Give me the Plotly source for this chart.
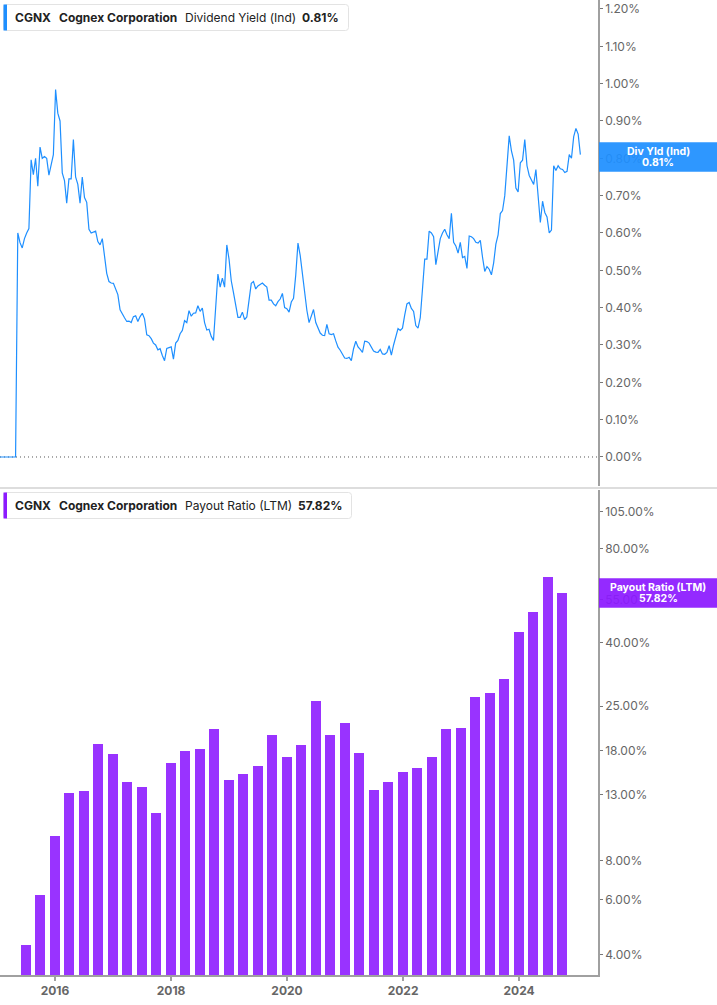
import plotly.graph_objects as go
import pandas as pd

# ---------------- data ----------------
div_yield = [
    0, 0, 0, 0, 0, 0, 0, 0,
    0.60, 0.574, 0.56, 0.585, 0.60, 0.612,
    0.796, 0.756, 0.80, 0.725, 0.83, 0.80, 0.805, 0.80, 0.755, 0.787, 0.81,
    0.984, 0.921, 0.90, 0.761, 0.74, 0.68, 0.745, 0.745, 0.85, 0.75,
    0.73, 0.68, 0.75, 0.695, 0.682, 0.61, 0.60, 0.603, 0.605, 0.577,
    0.568, 0.585, 0.54, 0.492, 0.47, 0.466, 0.465, 0.448, 0.435, 0.394,
    0.382, 0.373, 0.363, 0.364, 0.36, 0.376, 0.378, 0.363, 0.376, 0.385,
    0.37, 0.327, 0.325, 0.317, 0.305, 0.30, 0.287, 0.29, 0.272, 0.258,
    0.291, 0.294, 0.295, 0.262, 0.305, 0.312, 0.33, 0.339, 0.365, 0.36,
    0.392, 0.377, 0.385, 0.386, 0.405, 0.39, 0.399, 0.36, 0.34, 0.342,
    0.323, 0.312, 0.39, 0.49, 0.455, 0.479, 0.455, 0.568, 0.53, 0.472,
    0.44, 0.403, 0.374, 0.374, 0.388, 0.368, 0.375, 0.42, 0.465, 0.47,
    0.45, 0.458, 0.462, 0.466, 0.46, 0.455, 0.42, 0.42, 0.41, 0.405,
    0.416, 0.423, 0.438, 0.40, 0.397, 0.388, 0.415, 0.425, 0.487, 0.573,
    0.54, 0.487, 0.445, 0.393, 0.36, 0.375, 0.395, 0.36, 0.348, 0.332,
    0.326, 0.325, 0.355, 0.33, 0.328, 0.33, 0.311, 0.294, 0.286, 0.274,
    0.265, 0.264, 0.267, 0.258, 0.29, 0.31, 0.295, 0.288, 0.28, 0.31,
    0.309, 0.305, 0.294, 0.284, 0.281, 0.28, 0.288, 0.276, 0.275, 0.28,
    0.298, 0.273, 0.30, 0.325, 0.344, 0.339, 0.345, 0.38, 0.41, 0.414,
    0.398, 0.39, 0.352, 0.345, 0.373, 0.45, 0.53, 0.53, 0.605, 0.60,
    0.59, 0.515, 0.55, 0.585, 0.60, 0.61, 0.595, 0.585, 0.653, 0.575,
    0.565, 0.546, 0.575, 0.534, 0.537, 0.505, 0.592, 0.59, 0.585, 0.575,
    0.573, 0.58, 0.535, 0.497, 0.51, 0.503, 0.488, 0.52, 0.57, 0.595,
    0.652, 0.66, 0.70, 0.77, 0.86, 0.82, 0.795, 0.72, 0.71, 0.788,
    0.795, 0.85, 0.78, 0.754, 0.74, 0.73, 0.77, 0.695, 0.628, 0.685,
    0.655, 0.643, 0.60, 0.608, 0.78, 0.767, 0.78, 0.772, 0.77, 0.762,
    0.765, 0.81, 0.80, 0.858, 0.88, 0.865, 0.81,
]
div_dates = pd.date_range("2015-01-20", periods=len(div_yield), freq="14D")

payout_dates = [
    "2015-06-30", "2015-09-30", "2015-12-31",
    "2016-03-31", "2016-06-30", "2016-09-30", "2016-12-31",
    "2017-03-31", "2017-06-30", "2017-09-30", "2017-12-31",
    "2018-03-31", "2018-06-30", "2018-09-30", "2018-12-31",
    "2019-03-31", "2019-06-30", "2019-09-30", "2019-12-31",
    "2020-03-31", "2020-06-30", "2020-09-30", "2020-12-31",
    "2021-03-31", "2021-06-30", "2021-09-30", "2021-12-31",
    "2022-03-31", "2022-06-30", "2022-09-30", "2022-12-31",
    "2023-03-31", "2023-06-30", "2023-09-30", "2023-12-31",
    "2024-03-31", "2024-06-30", "2024-09-30",
]
payout_ratio = [
    4.28, 6.18, 9.58, 13.15, 13.36, 18.89, 17.51, 14.24, 13.72, 11.33,
    16.38, 17.94, 18.21, 21.15, 14.45, 15.11, 16.02, 20.19, 17.13, 18.75,
    26.01, 20.19, 22.06, 17.72, 13.48, 14.24, 15.37, 15.79, 17.16, 21.06,
    21.22, 26.73, 27.47, 30.52, 43.18, 49.94, 64.68, 57.82,
]

yield_ticks = [0.0, 0.1, 0.2, 0.3, 0.4, 0.5, 0.6, 0.7, 0.8, 0.9, 1.0, 1.1, 1.2]
payout_ticks = [4, 6, 8, 13, 18, 25, 40, 55, 80, 105]
year_ticks = ["2016-01-01", "2018-01-01", "2020-01-01", "2022-01-01", "2024-01-01"]
year_labels = ["2016", "2018", "2020", "2022", "2024"]

ticker = "CGNX"
company = "Cognex Corporation"
top_metric = "Dividend Yield (Ind)"
top_value = "0.81%"
top_short = "Div Yld (Ind)"
bot_metric = "Payout Ratio (LTM)"
bot_value = "57.82%"

# ---------------- layout helpers ----------------
W, H = 717, 1005
PW = 598          # plot width in px
PB = 975          # plot bottom in px


def px(x):
    return x / PW


def py(y):
    return (PB - y) / PB


BLUE = "#1e8fff"
PURPLE = "#9933ff"
PURPLE_BOX = "#8c1aff"
TXT = "#222222"
GREY = "#666666"
FONT = "Inter"
x_range = ["2015-01-20", "2025-05-12"]

fig = go.Figure()
fig.add_trace(go.Scatter(
    x=div_dates, y=div_yield, mode="lines",
    line=dict(color=BLUE, width=1.2),
    xaxis="x", yaxis="y", showlegend=False, hoverinfo="skip",
))
fig.add_trace(go.Bar(
    x=pd.to_datetime(payout_dates), y=payout_ratio,
    marker=dict(color=PURPLE, line=dict(width=0)),
    width=63 * 86400000,
    xaxis="x2", yaxis="y2", showlegend=False, hoverinfo="skip",
))

axis_common = dict(showgrid=False, zeroline=False)

fig.update_layout(
    width=W, height=H, autosize=False,
    margin=dict(l=0, r=W - PW, t=0, b=H - PB),
    paper_bgcolor="white", plot_bgcolor="white",
    font=dict(family=FONT, size=12, color=GREY),
    showlegend=False,
    bargap=0,
    xaxis=dict(domain=[0, 1], anchor="y", range=x_range, visible=False, **axis_common),
    yaxis=dict(
        domain=[py(486), 1], anchor="x", side="right",
        range=[-0.0777, 1.224],
        tickvals=yield_ticks, ticktext=[f"{v:.2f}%" for v in yield_ticks],
        ticks="outside", ticklen=3, tickcolor="#777", tickwidth=1,
        showline=True, linecolor="#a0a0a0", linewidth=1.5,
        tickfont=dict(family=FONT, size=12, color=GREY),
        **axis_common,
    ),
    xaxis2=dict(
        domain=[0, 1], anchor="y2", range=x_range, type="date",
        tickvals=year_ticks, ticktext=[f"<b>{t}</b>" for t in year_labels],
        ticks="outside", ticklen=4, tickcolor="#a0a0a0", tickwidth=1.5,
        showline=True, linecolor="#a0a0a0", linewidth=1.5,
        tickfont=dict(family=FONT, size=12, color=GREY),
        **axis_common,
    ),
    yaxis2=dict(
        domain=[0, py(490)], anchor="x2", side="right", type="log",
        range=[0.5359, 2.0908],
        tickvals=payout_ticks, ticktext=[f"{v:.2f}%" for v in payout_ticks],
        ticks="outside", ticklen=3, tickcolor="#777", tickwidth=1,
        showline=True, linecolor="#a0a0a0", linewidth=1.5,
        tickfont=dict(family=FONT, size=12, color=GREY),
        **axis_common,
    ),
)

shapes = []
# zero dotted line in top panel
shapes.append(dict(type="line", xref="paper", yref="y", x0=0, x1=1, y0=0, y1=0,
                   line=dict(color="#555", width=1, dash="1px,3px"), layer="below"))
# separator between panels
shapes.append(dict(type="line", xref="paper", yref="paper", x0=0, x1=W / PW,
                   y0=py(488), y1=py(488), line=dict(color="#dddddd", width=2)))


def rounded_box(x0, y0, x1, y1, r=3):
    X0, X1 = px(x0), px(x1)
    Y0, Y1 = py(y0), py(y1)
    rx, ry = r / PW, r / PB
    return (f"M {X0 + rx},{Y0} L {X1 - rx},{Y0} Q {X1},{Y0} {X1},{Y0 - ry} "
            f"L {X1},{Y1 + ry} Q {X1},{Y1} {X1 - rx},{Y1} L {X0 + rx},{Y1} "
            f"Q {X0},{Y1} {X0},{Y1 + ry} L {X0},{Y0 - ry} Q {X0},{Y0} {X0 + rx},{Y0} Z")


annotations = []


def legend_block(y_top, y_bot, color, metric, value, metric_x, value_x, x_end):
    shapes.append(dict(type="path", xref="paper", yref="paper",
                       path=rounded_box(3.5, y_top, x_end, y_bot),
                       fillcolor="white", line=dict(color="#e3e3e3", width=1)))
    shapes.append(dict(type="rect", xref="paper", yref="paper",
                       x0=px(3.5), x1=px(7), y0=py(y_top), y1=py(y_bot),
                       fillcolor=color, line=dict(width=0)))
    yc = py((y_top + y_bot) / 2)
    parts = [(13, f"<b>{ticker}</b>"), (57, f"<b>{company}</b>"),
             (metric_x, metric), (value_x, f"<b>{value}</b>")]
    for x, t in parts:
        annotations.append(dict(xref="paper", yref="paper", x=px(x), y=yc,
                                xanchor="left", yanchor="middle", showarrow=False,
                                text=t, font=dict(family=FONT, size=12, color=TXT)))


legend_block(4.5, 30.5, BLUE, top_metric, top_value, 183, 300, 348.5)
legend_block(492.5, 518.5, PURPLE_BOX, bot_metric, bot_value, 183, 296, 351.5)


def value_box(y_top, y_bot, color, line1, line2):
    shapes.append(dict(type="rect", xref="paper", yref="paper",
                       x0=px(599), x1=px(W), y0=py(y_top), y1=py(y_bot),
                       fillcolor=color, opacity=0.93, line=dict(width=0), layer="above"))
    ymid = (y_top + y_bot) / 2
    for yy, t in [(ymid - 6, line1), (ymid + 5.5, line2)]:
        annotations.append(dict(xref="paper", yref="paper", x=px(658), y=py(yy),
                                xanchor="center", yanchor="middle", showarrow=False,
                                text=f"<b>{t}</b>",
                                font=dict(family=FONT, size=10.5, color="white")))


value_box(142.3, 171.7, BLUE, top_short, top_value)
value_box(578.3, 607.7, PURPLE_BOX, bot_metric, bot_value)

fig.update_layout(shapes=shapes, annotations=annotations)
fig.write_html("out.html", config={"displayModeBar": False},
               post_script="document.body.style.margin='0';document.body.style.padding='0';")
